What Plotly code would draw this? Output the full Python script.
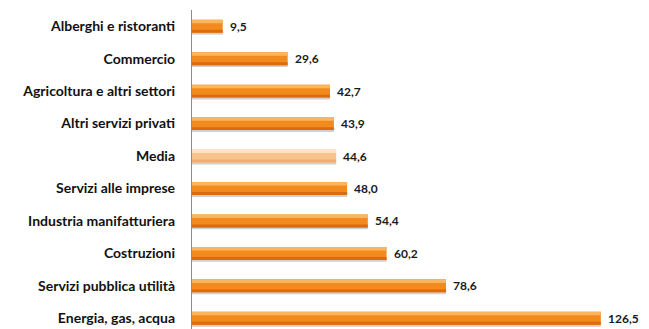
import plotly.graph_objects as go

# Settori ordinati dall'alto verso il basso
categorie = [
    "Alberghi e ristoranti",
    "Commercio",
    "Agricoltura e altri settori",
    "Altri servizi privati",
    "Media",
    "Servizi alle imprese",
    "Industria manifatturiera",
    "Costruzioni",
    "Servizi pubblica utilità",
    "Energia, gas, acqua",
]
valori = [9.5, 29.6, 42.7, 43.9, 44.6, 48.0, 54.4, 60.2, 78.6, 126.5]

# Colori: arancio per i settori, tinta chiara per la media
corpo = ["#F9C38E" if c == "Media" else "#F28A1E" for c in categorie]
luce = ["#FDE3C4" if c == "Media" else "#FBB55E" for c in categorie]
ombra_bar = ["#F3AE6E" if c == "Media" else "#DE6A0E" for c in categorie]

fig = go.Figure()

# ombra grigia sotto ogni barra
fig.add_trace(go.Bar(
    y=categorie, x=valori, orientation="h",
    offset=0.19, width=0.07,
    marker=dict(color="rgba(170,170,170,0.55)", line_width=0),
    hoverinfo="skip",
))
# corpo della barra
fig.add_trace(go.Bar(
    y=categorie, x=valori, orientation="h",
    offset=-0.2, width=0.4,
    marker=dict(color=corpo, line_width=0),
    hoverinfo="skip",
))
# fascia chiara in alto
fig.add_trace(go.Bar(
    y=categorie, x=valori, orientation="h",
    offset=-0.2, width=0.11,
    marker=dict(color=luce, line_width=0),
    hoverinfo="skip",
))
# fascia scura in basso
fig.add_trace(go.Bar(
    y=categorie, x=valori, orientation="h",
    offset=0.11, width=0.09,
    marker=dict(color=ombra_bar, line_width=0),
    hoverinfo="skip",
))

# etichette dei valori
for c, v in zip(categorie, valori):
    fig.add_annotation(
        x=v, y=c, xref="x", yref="y",
        text=f"{v:.1f}".replace(".", ","),
        showarrow=False, xanchor="left", yanchor="middle",
        xshift=5, yshift=0,
        font=dict(family="Lato", size=12, color="#1a1a1a", weight="bold"),
    )

fig.update_layout(
    width=649, height=329,
    margin=dict(l=192, r=0, t=10, b=0),
    paper_bgcolor="white", plot_bgcolor="white",
    barmode="overlay",
    showlegend=False,
    font=dict(family="Lato", color="#111111"),
)
fig.update_xaxes(
    range=[0, 141.4], showgrid=False, zeroline=False,
    showticklabels=False, showline=False, ticks="",
)
fig.update_yaxes(
    type="category", categoryorder="array", categoryarray=categorie,
    range=[9.33, -0.5],
    showgrid=False, zeroline=False,
    showline=True, linecolor="#8c8c8c", linewidth=1.3,
    ticks="", ticklabelstandoff=13,
    tickfont=dict(family="Lato", size=14, color="#111111", weight="bold"),
)

fig.write_html("out.html")
